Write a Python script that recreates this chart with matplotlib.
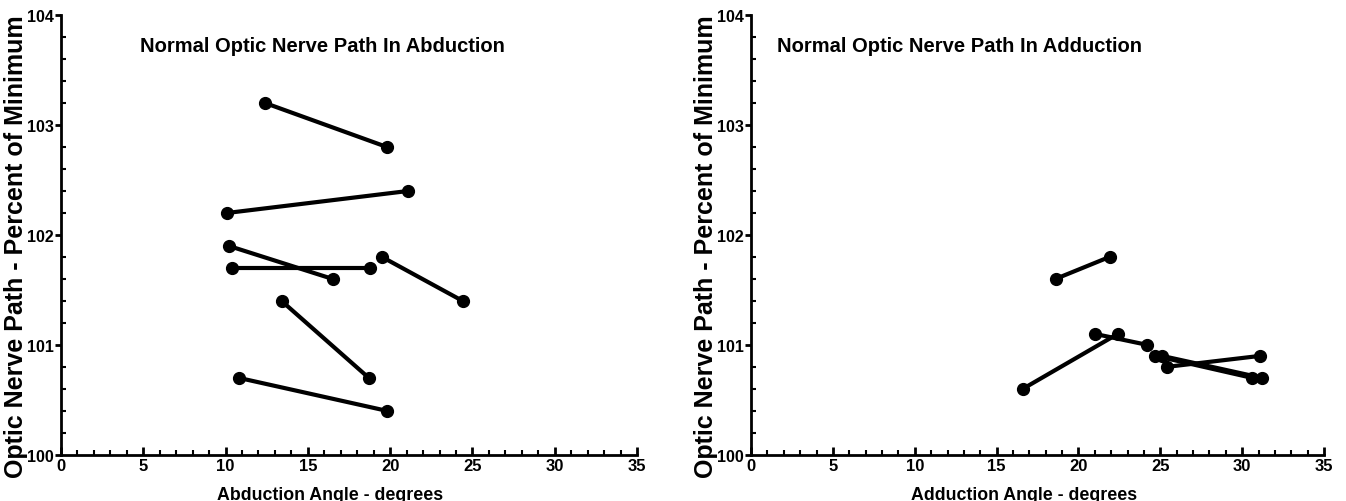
import numpy as np
import matplotlib
matplotlib.use("Agg")
import matplotlib.pyplot as plt
from matplotlib.ticker import MultipleLocator

plt.rcParams['font.family'] = ['Liberation Sans', 'DejaVu Sans']
plt.rcParams['font.weight'] = 'bold'

# abduction: each segment is (angle1, angle2), (path1, path2)
abd_x = [(12.4, 19.8), (10.1, 21.1), (10.2, 16.5), (10.4, 18.8),
         (19.5, 24.4), (13.4, 18.7), (10.8, 19.8)]
abd_y = [(103.2, 102.8), (102.2, 102.4), (101.9, 101.6), (101.7, 101.7),
         (101.8, 101.4), (101.4, 100.7), (100.7, 100.4)]

# adduction
add_x = [(18.6, 21.9), (16.6, 22.4), (21.0, 24.2), (25.4, 31.1),
         (24.7, 30.6), (25.1, 31.2)]
add_y = [(101.6, 101.8), (100.6, 101.1), (101.1, 101.0), (100.8, 100.9),
         (100.9, 100.7), (100.9, 100.7)]

panels = [
    {'x': abd_x, 'y': abd_y, 'title': 'Normal Optic Nerve Path In Abduction',
     'xlabel': 'Abduction Angle - degrees', 'rect': [0.0453, 0.092, 0.428, 0.876],
     'tx': 0.453, 'lx': 0.467, 'yx': -0.057},
    {'x': add_x, 'y': add_y, 'title': 'Normal Optic Nerve Path In Adduction',
     'xlabel': 'Adduction Angle - degrees', 'rect': [0.558, 0.092, 0.4257, 0.876],
     'tx': 0.363, 'lx': 0.476, 'yx': -0.057},
]

fig = plt.figure(figsize=(13.46, 5.02), dpi=100)

for p in panels:
    ax = fig.add_axes(p['rect'])
    for xs, ys in zip(p['x'], p['y']):
        ax.plot(xs, ys, '-o', color='black', lw=3, ms=8.5, clip_on=False)
    ax.set_xlim(0, 35)
    ax.set_ylim(100, 104)
    ax.xaxis.set_major_locator(MultipleLocator(5))
    ax.xaxis.set_minor_locator(MultipleLocator(1))
    ax.yaxis.set_major_locator(MultipleLocator(1))
    ax.yaxis.set_minor_locator(MultipleLocator(0.2))
    for s in ['top', 'right']:
        ax.spines[s].set_visible(False)
    for s in ['left', 'bottom']:
        ax.spines[s].set_linewidth(2)
    ax.tick_params(axis='y', which='major', direction='out', length=4, width=2, labelsize=11.5, pad=1)
    ax.tick_params(axis='x', which='major', direction='in', length=6, width=2, labelsize=12, pad=2)
    ax.tick_params(which='minor', direction='in', length=3.5, width=1.5)
    for lab in ax.get_xticklabels() + ax.get_yticklabels():
        lab.set_fontweight('bold')
    ax.set_xlabel(p['xlabel'], fontsize=12.8, fontweight='bold')
    ax.xaxis.set_label_coords(p['lx'], -0.07)
    ax.set_ylabel('Optic Nerve Path - Percent of Minimum', fontsize=18, fontweight='bold')
    ax.yaxis.set_label_coords(p['yx'], 0.475)
    ax.text(p['tx'], 0.93, p['title'], transform=ax.transAxes, ha='center', va='center',
            fontsize=14.5, fontweight='bold')

fig.savefig('out.png', dpi=100)
